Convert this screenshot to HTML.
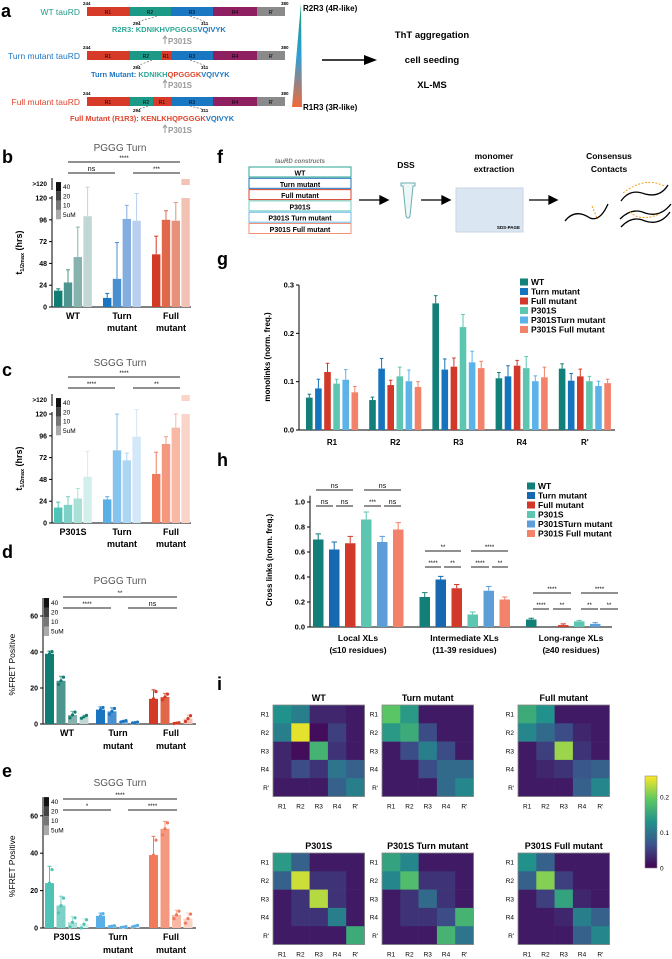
<!DOCTYPE html>
<html><head><meta charset="utf-8">
<style>
html,body{margin:0;padding:0;background:#fff;}
svg{display:block;font-family:"Liberation Sans",sans-serif;}
.b{font-weight:bold;}
</style></head>
<body>
<svg id="fig" width="672" height="959" viewBox="0 0 672 959" xmlns="http://www.w3.org/2000/svg">
<!-- Panel a -->
<g>
<text x="1" y="17" font-size="18" class="b">a</text>
<text x="80" y="15" font-size="8.5" fill="#1f9c8a" text-anchor="end">WT tauRD</text>
<text x="80" y="59" font-size="8.5" fill="#1f77c4" text-anchor="end">Turn mutant tauRD</text>
<text x="80" y="105" font-size="8.5" fill="#e0442c" text-anchor="end">Full mutant tauRD</text>
<g>
<rect x="87" y="7" width="43" height="9" fill="#d63b2a"/><rect x="130" y="7" width="41" height="9" fill="#1c9a87"/><rect x="171" y="7" width="42" height="9" fill="#1a78c2"/><rect x="213" y="7" width="44" height="9" fill="#8e2062"/><rect x="257" y="7" width="28" height="9" fill="#8a8a8a"/>
<text x="108" y="14" font-size="5" text-anchor="middle">R1</text><text x="150" y="14" font-size="5" text-anchor="middle">R2</text><text x="192" y="14" font-size="5" text-anchor="middle">R3</text><text x="235" y="14" font-size="5" text-anchor="middle">R4</text><text x="271" y="14" font-size="5" text-anchor="middle">R'</text>
</g>
<g>
<rect x="87" y="51" width="43" height="9" fill="#d63b2a"/><rect x="130" y="51" width="32" height="9" fill="#1c9a87"/><rect x="162" y="51" width="9" height="9" fill="#d63b2a"/><rect x="171" y="51" width="42" height="9" fill="#1a78c2"/><rect x="213" y="51" width="44" height="9" fill="#8e2062"/><rect x="257" y="51" width="28" height="9" fill="#8a8a8a"/>
<text x="108" y="58" font-size="5" text-anchor="middle">R1</text><text x="146" y="58" font-size="5" text-anchor="middle">R2</text><text x="166" y="58" font-size="5" text-anchor="middle">R1</text><text x="192" y="58" font-size="5" text-anchor="middle">R3</text><text x="235" y="58" font-size="5" text-anchor="middle">R4</text><text x="271" y="58" font-size="5" text-anchor="middle">R'</text>
</g>
<g>
<rect x="87" y="97" width="43" height="9" fill="#d63b2a"/><rect x="130" y="97" width="23" height="9" fill="#1c9a87"/><rect x="153" y="97" width="18" height="9" fill="#d63b2a"/><rect x="171" y="97" width="42" height="9" fill="#1a78c2"/><rect x="213" y="97" width="44" height="9" fill="#8e2062"/><rect x="257" y="97" width="28" height="9" fill="#8a8a8a"/>
<text x="108" y="104" font-size="5" text-anchor="middle">R1</text><text x="146" y="104" font-size="5" text-anchor="middle">R2</text><text x="162" y="104" font-size="5" text-anchor="middle">R1</text><text x="192" y="104" font-size="5" text-anchor="middle">R3</text><text x="235" y="104" font-size="5" text-anchor="middle">R4</text><text x="271" y="104" font-size="5" text-anchor="middle">R'</text>
</g>
<g font-size="4.5" class="b">
<text x="83" y="5">244</text><text x="281" y="5">380</text><text x="83" y="49">244</text><text x="281" y="49">380</text><text x="83" y="95">244</text><text x="281" y="95">380</text>
<text x="133" y="25">294</text><text x="201" y="25">311</text><text x="133" y="69">294</text><text x="201" y="69">311</text><text x="133" y="112">294</text><text x="201" y="112">311</text>
</g>
<g stroke="#555" stroke-width="0.6" stroke-dasharray="2,1.5" fill="none">
<path d="M157 16 L137 22"/><path d="M190 16 L206 22"/><path d="M152 60 L137 66"/><path d="M190 60 L206 66"/><path d="M148 106 L137 110"/><path d="M190 106 L206 110"/>
</g>
<text x="112" y="32" font-size="7.5" class="b"><tspan fill="#2aa896">R2R3:  KDNIKHVPGGGS</tspan><tspan fill="#1a78c2">VQIVYK</tspan></text>
<text x="91" y="77" font-size="7.5" class="b"><tspan fill="#1f77c4">Turn Mutant:  </tspan><tspan fill="#2aa896">KDNIKH</tspan><tspan fill="#e0442c">QPGGGK</tspan><tspan fill="#1a78c2">VQIVYK</tspan></text>
<text x="70" y="121" font-size="7.5" class="b"><tspan fill="#e0442c">Full Mutant (R1R3):  KENLKHQPGGGK</tspan><tspan fill="#1a78c2">VQIVYK</tspan></text>
<g fill="#999" font-size="8" class="b">
<path d="M165 44 V37 M163 39 L165 36 L167 39" stroke="#999" stroke-width="1" fill="none"/><text x="168" y="44">P301S</text>
<path d="M165 88 V81 M163 83 L165 80 L167 83" stroke="#999" stroke-width="1" fill="none"/><text x="168" y="88">P301S</text>
<path d="M165 133 V126 M163 128 L165 125 L167 128" stroke="#999" stroke-width="1" fill="none"/><text x="168" y="133">P301S</text>
</g>
<defs><linearGradient id="wedge" x1="0" y1="0" x2="0" y2="1"><stop offset="0" stop-color="#1a9a70"/><stop offset="0.5" stop-color="#2aa0d8"/><stop offset="1" stop-color="#f26a3a"/></linearGradient></defs>
<path d="M301 3 L302 107 L292 107 Z" fill="url(#wedge)"/>
<text x="303" y="11" font-size="8" class="b">R2R3 (4R-like)</text>
<text x="303" y="110" font-size="8" class="b">R1R3 (3R-like)</text>
<path d="M322 60 H366" stroke="#000" stroke-width="1.5"/><path d="M364 55 L377 60 L364 65 Z" fill="#000"/>
<text x="432" y="38" font-size="9.5" class="b" text-anchor="middle">ThT aggregation</text>
<text x="432" y="63" font-size="9.5" class="b" text-anchor="middle">cell seeding</text>
<text x="432" y="88" font-size="9.5" class="b" text-anchor="middle">XL-MS</text>
</g>

<!-- Panel f -->
<g>
<text x="217" y="163" font-size="18" class="b">f</text>
<text x="300" y="163" font-size="6" font-style="italic" fill="#777" text-anchor="middle" class="b">tauRD constructs</text>
<g font-size="7" class="b" text-anchor="middle" fill="none" stroke-width="1">
<rect x="249" y="167" width="102" height="10" stroke="#2aa38f"/>
<rect x="249" y="178.3" width="102" height="10" stroke="#1f72bb"/>
<rect x="249" y="189.6" width="102" height="10" stroke="#d5422f"/>
<rect x="249" y="200.9" width="102" height="10" stroke="#6ccfc0"/>
<rect x="249" y="212.2" width="102" height="10" stroke="#6fb8e8"/>
<rect x="249" y="223.5" width="102" height="10" stroke="#f39178"/>
<g fill="#000" stroke="none"><text x="300" y="175.5">WT</text><text x="300" y="186.8">Turn mutant</text><text x="300" y="198.1">Full mutant</text><text x="300" y="209.4">P301S</text><text x="300" y="220.7">P301S Turn mutant</text><text x="300" y="232">P301S Full mutant</text></g>
</g>
<path d="M359 200 H383 M380 196 L388 200 L380 204 Z" stroke="#000" stroke-width="1.3" fill="#000"/>
<text x="406" y="168" font-size="8.5" class="b" text-anchor="middle">DSS</text>
<path d="M401 183 H415 V186 H413 L410 216 Q408 220 406 216 L403 186 H401 Z" fill="#eef7f7" stroke="#6aaeb0" stroke-width="1"/>
<path d="M421 200 H445 M442 196 L450 200 L442 204 Z" stroke="#000" stroke-width="1.3" fill="#000"/>
<text x="494" y="159" font-size="8.5" class="b" text-anchor="middle">monomer</text>
<text x="494" y="172" font-size="8.5" class="b" text-anchor="middle">extraction</text>
<rect x="456" y="188" width="67" height="44" fill="#dbe6f3" stroke="#c8d6e6"/>
<text x="520" y="229" font-size="4.5" class="b" text-anchor="end">SDS-PAGE</text>
<path d="M529 200 H552 M549 196 L557 200 L549 204 Z" stroke="#000" stroke-width="1.3" fill="#000"/>
<text x="609" y="159" font-size="8.5" class="b" text-anchor="middle">Consensus</text>
<text x="609" y="172" font-size="8.5" class="b" text-anchor="middle">Contacts</text>
<g fill="none" stroke="#000" stroke-width="1.3">
<path d="M565 221 Q575 208 590 218 Q600 222 608 204"/>
<path d="M621 201 Q630 188 645 194 Q660 198 668 185"/>
<path d="M620 219 Q632 207 645 213 Q660 218 671 204"/>
<path d="M621 227 Q632 215 645 221 Q660 226 670 212"/>
</g>
<g fill="none" stroke="#f5a020" stroke-width="1" stroke-dasharray="2,1.5"><path d="M592 206 L597 218"/><path d="M623 193 Q645 176 664 186"/><path d="M630 212 Q640 222 660 214"/></g>
</g>

<g id="pb"></g>
<g id="pc"></g>
<g id="pd"></g>
<g id="pe"></g>
<g id="pg"></g>
<g id="ph"></g>
<g id="pi"></g>
</svg>
<script>
// ---------- data ----------
const thtGroups = ["WT","Turn mutant","Full mutant"];
const thtGroupsC = ["P301S","Turn mutant","Full mutant"];
const concLabels = ["40","20","10","5uM"];
const bVals = [[18,27,55,100],[10,31,97,95],[58,96,95,125]];
const bErr = [[2,14,33,37],[5,40,15,30],[20,10,20,0]];
const cVals = [[17,20,27,51],[26,80,69,95],[54,87,105,125]];
const cErr = [[6,9,11,28],[3,40,8,30],[24,8,15,0]];
const thtTicks = [0,24,48,72,96,120];
const dVals = [[39,24,5,4],[8,7,1.5,0.8],[14,15,0.5,3]];
const dErr = [[1.5,2.5,2,1],[1.5,2,0.5,0.3],[5,2,0.3,2]];
const eVals = [[24,12,3,2],[6.5,1,0.5,1],[39,53,7,5]];
const eErr = [[9,5,3,3],[1.5,0.3,0.3,0.5],[10,4,2.5,3]];
const fretTicks = [0,20,40,60];
const seriesNames = ["WT","Turn mutant","Full mutant","P301S","P301STurn mutant","P301S Full mutant"];
const gCats = ["R1","R2","R3","R4","R'"];
const gVals = [[0.067,0.086,0.120,0.096,0.104,0.078],[0.062,0.127,0.093,0.111,0.101,0.089],[0.262,0.125,0.131,0.213,0.140,0.128],[0.107,0.111,0.133,0.128,0.101,0.109],[0.127,0.102,0.111,0.101,0.091,0.097]];
const gErr = [[0.007,0.019,0.018,0.009,0.021,0.012],[0.006,0.021,0.010,0.019,0.023,0.011],[0.016,0.022,0.018,0.026,0.023,0.014],[0.012,0.022,0.011,0.024,0.011,0.021],[0.010,0.015,0.015,0.010,0.010,0.008]];
const gTicks = [0,0.1,0.2,0.3];
const hCats = ["Local XLs","Intermediate XLs","Long-range XLs"];
const hSub = ["(≤10 residues)","(11-39 residues)","(≥40 residues)"];
const hVals = [[0.70,0.62,0.67,0.86,0.68,0.78],[0.24,0.38,0.31,0.10,0.29,0.22],[0.06,0.0,0.015,0.045,0.025,0.0]];
const hErr = [[0.045,0.06,0.055,0.06,0.045,0.055],[0.035,0.025,0.03,0.02,0.035,0.02],[0.01,0,0.01,0.008,0.01,0]];
const hTicks = [0,0.2,0.4,0.6,0.8,1.0];
const heatNames = ["WT","Turn mutant","Full mutant","P301S","P301S Turn mutant","P301S Full mutant"];
const heatLabels = ["R1","R2","R3","R4","R'"];
const heatWT = [[.13,.11,.03,.03,.02],[.11,.25,.01,.05,.02],[.03,.01,.17,.04,.02],[.03,.06,.04,.10,.08],[.02,.02,.02,.08,.11]];
const heatTurn = [[.19,.14,.02,.02,.02],[.14,.16,.06,.02,.02],[.02,.06,.11,.06,.02],[.02,.02,.06,.09,.09],[.02,.02,.02,.09,.12]];
const heatFull = [[.16,.13,.02,.02,.02],[.12,.09,.06,.03,.02],[.02,.05,.22,.04,.02],[.02,.03,.04,.07,.08],[.02,.02,.02,.08,.12]];
const heatP301S = [[.14,.08,.02,.02,.02],[.08,.24,.04,.04,.02],[.02,.04,.23,.04,.02],[.02,.04,.04,.11,.02],[.02,.02,.02,.02,.16]];
const heatP301STurn = [[.15,.12,.02,.02,.02],[.12,.18,.04,.04,.02],[.02,.04,.09,.04,.02],[.02,.04,.04,.06,.17],[.02,.02,.02,.17,.10]];
const heatP301SFull = [[.13,.08,.02,.02,.02],[.08,.21,.05,.02,.02],[.02,.05,.15,.03,.02],[.02,.02,.03,.11,.08],[.02,.02,.02,.08,.12]];
const cbTicks = [0,0.1,0.2];

// ---------- styles ----------
const NS="http://www.w3.org/2000/svg";
function mk(parent,tag,attrs,txt){const e=document.createElementNS(NS,tag);for(const k in attrs)e.setAttribute(k,attrs[k]);if(txt!==undefined)e.textContent=txt;parent.appendChild(e);return e;}
const shWT=["#0f7d72","#4d958e","#87b3ae","#c1d7d4"],shTurn=["#1a75c0","#4a8fd0","#84aee0","#b8cfee"],shFull=["#d23a25","#e0674a","#e8917a","#f2c3b5"];
const shP=["#4fc3b5","#7dd1c6","#a9e0d8","#d3efeb"],shPT=["#5ab0e6","#86c3ee","#add6f3","#d2e7f8"],shPF=["#f07a5c","#f4997f","#f7b8a4","#fad4c8"];
const serCol=["#127f78","#1574bd","#d2392a","#5cc6b1","#5cb3e8","#f3826a"];
const serColH=["#127f78","#1668b0","#d2392a","#5cc6b1","#5e9ed8","#f3826a"];

function sig(g,x1,x2,y,t){const l=mk(g,'line',{x1:x1,x2:x2,y1:y,y2:y,stroke:'#222','stroke-width':1});


mk(g,'text',{x:(x1+x2)/2,y:y-2,'font-size':t==='ns'?7:6,'text-anchor':'middle'},t);}
function concLegend(g,x,y,h){const gr=["#111","#444","#777","#aaa"];for(let i=0;i<4;i++){const r=mk(g,'rect',{x:x,y:y+i*h,width:5,height:h,fill:gr[i]});


mk(g,'text',{x:x+7,y:y+i*h+h*0.75,'font-size':6.5},concLabels[i]);}}

// ---------- ThT charts (b, c) ----------
function tht(g,opt){
 const y=v=>opt.y0-v*0.908;
 mk(g,'text',{x:2,y:opt.labY,'font-size':18,'font-weight':'bold'},opt.letter);
 mk(g,'text',{x:120,y:opt.titleY,'font-size':10,'text-anchor':'middle',fill:'#555'},opt.title);
 mk(g,'line',{x1:52,x2:52,y1:opt.y0,y2:y(120)-2,stroke:'#000'});
 mk(g,'line',{x1:52,x2:52,y1:y(120)-8,y2:y(120)-20,stroke:'#000'});
 mk(g,'line',{x1:52,x2:191,y1:opt.y0,y2:opt.y0,stroke:'#000'});
 thtTicks.forEach(t=>{mk(g,'line',{x1:49,x2:52,y1:y(t),y2:y(t),stroke:'#000'});mk(g,'text',{x:47,y:y(t)+2.5,'font-size':7,'text-anchor':'end','font-weight':'bold'},t);});
 mk(g,'text',{x:47,y:y(120)-12,'font-size':6.5,'text-anchor':'end','font-weight':'bold'},'>120');
 const yl=mk(g,'text',{transform:`translate(22,${y(60)}) rotate(-90)`,'font-size':9,'text-anchor':'middle','font-weight':'bold'},'t');
 mk(yl,'tspan',{'font-size':5.5,dy:2},'1/2max');mk(yl,'tspan',{dy:-2},' (hrs)');
 const starts=[54,103,152];
 opt.vals.forEach((grp,gi)=>{grp.forEach((v,i)=>{
  const x=starts[gi]+i*9.8, col=opt.cols[gi][i], vv=Math.min(v,120);
  const r=mk(g,'rect',{x:x,y:y(vv),width:8.4,height:opt.y0-y(vv),fill:col});
  
  
  if(v>120){const rr=mk(g,'rect',{x:x,y:y(120)-19,width:8.4,height:6,fill:col});
   
   }
  const e=opt.err[gi][i];if(e>0){const top=y(Math.min(vv+e,132));mk(g,'line',{x1:x+4.2,x2:x+4.2,y1:y(vv),y2:top,stroke:col,'stroke-width':1});mk(g,'line',{x1:x+2.2,x2:x+6.2,y1:top,y2:top,stroke:col,'stroke-width':1});}
 });});
 opt.groups.forEach((n,gi)=>{const cx=starts[gi]+19;const p=n.split(' ');mk(g,'text',{x:cx,y:opt.y0+12,'font-size':9,'text-anchor':'middle','font-weight':'bold'},p[0]);if(p[1])mk(g,'text',{x:cx,y:opt.y0+24,'font-size':9,'text-anchor':'middle','font-weight':'bold'},p[1]);});
 concLegend(g,56,y(120)-16,9.3);
 sig(g,68,180,opt.s1,'****');sig(g,68,115,opt.s1+11,opt.t2);sig(g,133,180,opt.s1+11,opt.t3);
}
tht(document.getElementById('pb'),{y0:307,letter:'b',labY:163,title:'PGGG Turn',titleY:151,vals:bVals,err:bErr,cols:[shWT,shTurn,shFull],groups:thtGroups,s1:162,t2:'ns',t3:'***'});
tht(document.getElementById('pc'),{y0:523,letter:'c',labY:376,title:'SGGG Turn',titleY:366,vals:cVals,err:cErr,cols:[shP,shPT,shPF],groups:thtGroupsC,s1:377,t2:'****',t3:'**'});

// ---------- FRET charts (d, e) ----------
function fret(g,opt){
 const y=v=>opt.y0-v*opt.k;
 mk(g,'text',{x:2,y:opt.labY,'font-size':18,'font-weight':'bold'},opt.letter);
 mk(g,'text',{x:120,y:opt.titleY,'font-size':10,'text-anchor':'middle',fill:'#555'},opt.title);
 mk(g,'line',{x1:43,x2:43,y1:opt.y0,y2:y(70),stroke:'#000'});
 mk(g,'line',{x1:43,x2:196,y1:opt.y0,y2:opt.y0,stroke:'#000'});
 fretTicks.forEach(t=>{mk(g,'line',{x1:40,x2:43,y1:y(t),y2:y(t),stroke:'#000'});mk(g,'text',{x:38,y:y(t)+2.5,'font-size':7,'text-anchor':'end','font-weight':'bold'},t);});
 mk(g,'text',{transform:`translate(15,${y(33)}) rotate(-90)`,'font-size':8.5,'text-anchor':'middle'},'%FRET Positive');
 const starts=[45,96,149];
 opt.vals.forEach((grp,gi)=>{grp.forEach((v,i)=>{
  const x=starts[gi]+i*11.5,col=opt.cols[gi][i];
  const r=mk(g,'rect',{x:x,y:y(v),width:9,height:opt.y0-y(v),fill:col});
  
  
  const e=opt.err[gi][i],top=y(v+e);mk(g,'line',{x1:x+4.5,x2:x+4.5,y1:y(v),y2:top,stroke:col});mk(g,'line',{x1:x+2.5,x2:x+6.5,y1:top,y2:top,stroke:col});
  [-2.5,0,2.5].forEach((d,j)=>{const dv=v+(j-1)*e*0.8;mk(g,'circle',{cx:x+4.5+d,cy:y(Math.max(dv,0)),r:1.6,fill:opt.cols[gi][0]});});
 });});
 opt.groups.forEach((n,gi)=>{const cx=starts[gi]+22;const p=n.split(' ');mk(g,'text',{x:cx,y:opt.y0+12,'font-size':9,'text-anchor':'middle','font-weight':'bold'},p[0]);if(p[1])mk(g,'text',{x:cx,y:opt.y0+25,'font-size':9,'text-anchor':'middle','font-weight':'bold'},p[1]);});
 concLegend(g,44,y(70),9.5);
 sig(g,63,177,opt.s1,opt.t1);sig(g,63,111,opt.s1+11,opt.t2);sig(g,128,177,opt.s1+11,opt.t3);
}
fret(document.getElementById('pd'),{y0:724,k:1.8,letter:'d',labY:558,title:'PGGG Turn',titleY:584,vals:dVals,err:dErr,cols:[shWT,shTurn,shFull],groups:thtGroups,s1:597,t1:'**',t2:'****',t3:'ns'});
fret(document.getElementById('pe'),{y0:928,k:1.87,letter:'e',labY:777,title:'SGGG Turn',titleY:786,vals:eVals,err:eErr,cols:[shP,shPT,shPF],groups:thtGroupsC,s1:799,t1:'****',t2:'*',t3:'****'});

// ---------- legend helper ----------
function seriesLegend(g,x,y,cols){seriesNames.forEach((n,i)=>{const r=mk(g,'rect',{x:x,y:y+i*9.5-6.5,width:8,height:7,fill:cols[i]});
 
 
 mk(g,'text',{x:x+11,y:y+i*9.5,'font-size':8.5,'font-weight':'bold'},n);});}

// ---------- panel g ----------
(function(){const g=document.getElementById('pg');
 const y0=430,k=483.3,y=v=>y0-v*k;
 mk(g,'text',{x:217,y:265,'font-size':18,'font-weight':'bold'},'g');
 mk(g,'line',{x1:299,x2:299,y1:y0,y2:y(0.3),stroke:'#000'});mk(g,'line',{x1:299,x2:615,y1:y0,y2:y0,stroke:'#000'});
 gTicks.forEach(t=>{mk(g,'line',{x1:296,x2:299,y1:y(t),y2:y(t),stroke:'#000'});mk(g,'text',{x:294,y:y(t)+2.5,'font-size':7.5,'text-anchor':'end','font-weight':'bold'},t.toFixed(1));});
 mk(g,'text',{transform:'translate(270,357) rotate(-90)','font-size':8,'text-anchor':'middle','font-weight':'bold'},'monolinks (norm. freq.)');
 gVals.forEach((grp,gi)=>{const gx=306+gi*63.2;grp.forEach((v,i)=>{const x=gx+i*9.1;
  const r=mk(g,'rect',{x:x,y:y(v),width:6.6,height:y0-y(v),fill:serCol[i]});
  
  
  const top=y(v+gErr[gi][i]);mk(g,'line',{x1:x+3.3,x2:x+3.3,y1:y(v),y2:top,stroke:serCol[i]});mk(g,'line',{x1:x+1.5,x2:x+5.1,y1:top,y2:top,stroke:serCol[i]});});
  mk(g,'text',{x:gx+26,y:445,'font-size':8,'text-anchor':'middle','font-weight':'bold'},gCats[gi]);});
 seriesLegend(g,520,285,serCol);
})();

// ---------- panel h ----------
(function(){const g=document.getElementById('ph');
 const y0=627,k=125,y=v=>y0-v*k;
 mk(g,'text',{x:217,y:466,'font-size':18,'font-weight':'bold'},'h');
 mk(g,'line',{x1:310,x2:310,y1:y0,y2:y(1.05),stroke:'#000'});mk(g,'line',{x1:310,x2:612,y1:y0,y2:y0,stroke:'#000'});
 hTicks.forEach(t=>{mk(g,'line',{x1:307,x2:310,y1:y(t),y2:y(t),stroke:'#000'});mk(g,'text',{x:305,y:y(t)+2.5,'font-size':7.5,'text-anchor':'end','font-weight':'bold'},t.toFixed(1));});
 mk(g,'text',{transform:'translate(272,560) rotate(-90)','font-size':8,'text-anchor':'middle','font-weight':'bold'},'Cross links (norm. freq.)');
 hVals.forEach((grp,gi)=>{const gx=313+gi*106.5;grp.forEach((v,i)=>{const x=gx+i*16;
  const r=mk(g,'rect',{x:x,y:y(v),width:10.5,height:y0-y(v),fill:serColH[i]});
  
  
  const e=hErr[gi][i];if(e>0){const top=y(v+e);mk(g,'line',{x1:x+5.2,x2:x+5.2,y1:y(v),y2:top,stroke:serColH[i]});mk(g,'line',{x1:x+2.5,x2:x+8,y1:top,y2:top,stroke:serColH[i]});}});
  mk(g,'text',{x:gx+45,y:641,'font-size':8.5,'text-anchor':'middle','font-weight':'bold'},hCats[gi]);
  mk(g,'text',{x:gx+45,y:653,'font-size':8.5,'text-anchor':'middle','font-weight':'bold'},hSub[gi]);});
 seriesLegend(g,527,489,serColH);
 sig(g,316,353,490,'ns');sig(g,316,333,506,'ns');sig(g,336,353,506,'ns');
 sig(g,364,401,490,'ns');sig(g,364,381,506,'***');sig(g,384,401,506,'ns');
 sig(g,425,461,551,'**');sig(g,425,441,567,'****');sig(g,444,461,567,'**');
 sig(g,471,508,551,'****');sig(g,471,489,567,'****');sig(g,492,508,567,'**');
 sig(g,533,571,593,'****');sig(g,533,549,609,'****');sig(g,553,571,609,'**');
 sig(g,581,618,593,'****');sig(g,581,598,609,'**');sig(g,600,618,609,'**');
})();

// ---------- panel i ----------
const vmax=0.26;
const vir=[[68,1,84],[59,82,139],[33,145,140],[94,201,98],[253,231,37]];
function viridis(v){let t=Math.max(0,Math.min(1,v/vmax))*4;const i=Math.min(3,Math.floor(t)),f=t-i;const a=vir[i],b=vir[i+1];return `rgb(${a.map((c,j)=>Math.round(c+(b[j]-c)*f)).join(',')})`;}
(function(){const g=document.getElementById('pi');
 mk(g,'text',{x:217,y:690,'font-size':18,'font-weight':'bold'},'i');
 const mats=[heatWT,heatTurn,heatFull,heatP301S,heatP301STurn,heatP301SFull];
 const xs=[273,382,518],ys=[705,853],cs=18.3;
 mats.forEach((m,mi)=>{const x0=xs[mi%3],y0=ys[Math.floor(mi/3)];
  mk(g,'text',{x:x0+cs*2.5,y:y0-4,'font-size':9,'text-anchor':'middle','font-weight':'bold'},heatNames[mi]);
  m.forEach((row,r)=>row.forEach((v,c)=>{const cell=mk(g,'rect',{x:x0+c*cs,y:y0+r*cs,width:cs+0.3,height:cs+0.3,fill:viridis(v)});
   
   }));
  mk(g,'rect',{x:x0,y:y0,width:cs*5,height:cs*5,fill:'none',stroke:'#888','stroke-width':0.8});
  heatLabels.forEach((l,i)=>{mk(g,'text',{x:x0-4,y:y0+i*cs+cs/2+2.5,'font-size':6.5,'text-anchor':'end'},l);
   mk(g,'text',{x:x0+i*cs+cs/2,y:y0+cs*5+12,'font-size':6.5,'text-anchor':'middle'},l);});
 });
 const defs=mk(g,'defs',{});const lg=mk(defs,'linearGradient',{id:'cbg',x1:0,y1:1,x2:0,y2:0});
 vir.forEach((c,i)=>mk(lg,'stop',{offset:i/4,'stop-color':`rgb(${c.join(',')})`}));
 const cb=mk(g,'rect',{x:645,y:776,width:12,height:92,fill:'url(#cbg)',stroke:'#888','stroke-width':0.6});
 
 
 cbTicks.forEach(t=>{const yy=868-t/vmax*92;mk(g,'text',{x:660,y:yy+2.5,'font-size':6.5},t===0?'0':t);});
})();
</script>
</body></html>
